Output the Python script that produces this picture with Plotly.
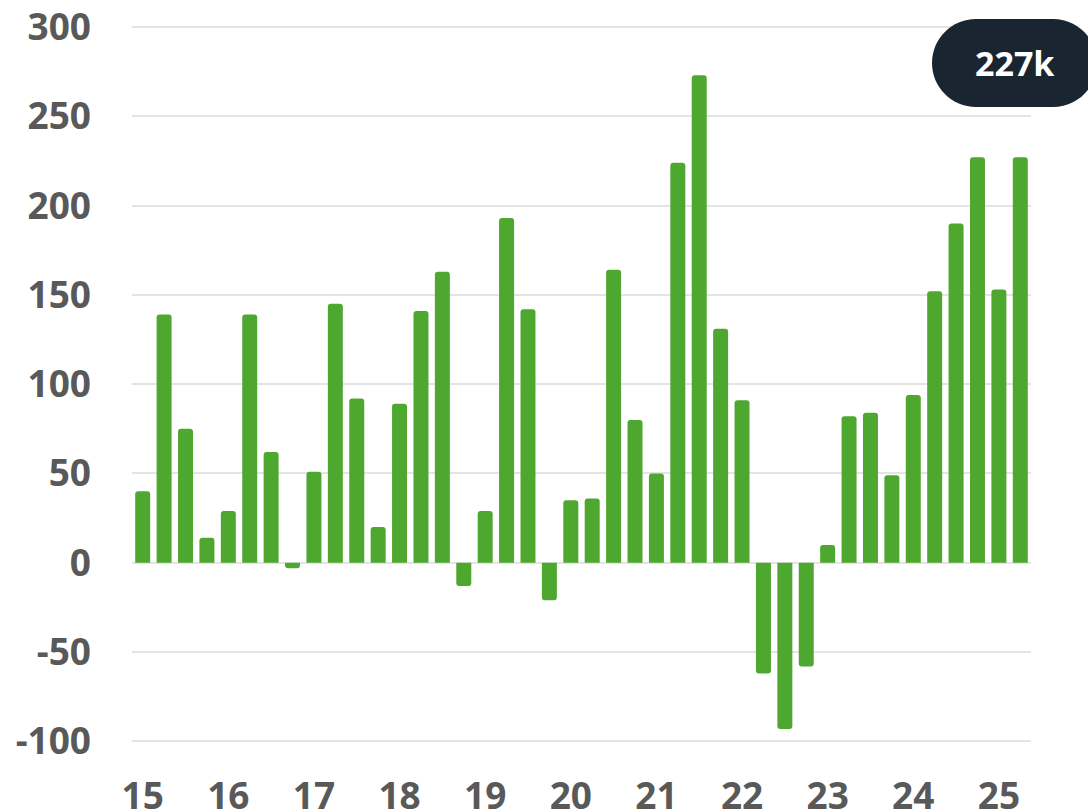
import plotly.graph_objects as go

# Quarterly values (2015 Q1 .. 2025 Q2)
quarters = [f"{y}Q{q}" for y in range(15, 26) for q in range(1, 5)][:42]
values = [40, 139, 75, 14, 29, 139, 62, -3, 51, 145, 92, 20, 89, 141, 163, -13,
          29, 193, 142, -21, 35, 36, 164, 80, 50, 224, 273, 131, 91, -62, -93, -58,
          10, 82, 84, 49, 94, 152, 190, 227, 153, 227]
year_labels = ["15", "16", "17", "18", "19", "20", "21", "22", "23", "24", "25"]
y_ticks = [-100, -50, 0, 50, 100, 150, 200, 250, 300]
callout_text = "227k"

W, H = 1088, 811
ML, MR, MT = 132, 57, 18
YMIN, YMAX = -116, 305
PX_PER_UNIT = 1.786
plot_h = (YMAX - YMIN) * PX_PER_UNIT
MB = H - MT - plot_h

xs = list(range(len(values)))
tickvals = [quarters.index(f"{y}Q1") for y in year_labels]

fig = go.Figure()
fig.add_trace(go.Bar(
    x=xs, y=values,
    marker=dict(color="#4ea72e", cornerradius=3, line=dict(width=0)),
    hoverinfo="skip",
))

tickfont = dict(family="Open Sans", size=37, color="#595959", weight="bold")

fig.update_layout(
    width=W, height=H,
    margin=dict(l=ML, r=MR, t=MT, b=MB, autoexpand=False),
    plot_bgcolor="white", paper_bgcolor="white",
    bargap=0.3,
    showlegend=False,
    xaxis=dict(
        range=[-0.5, len(values) - 0.5],
        tickvals=tickvals, ticktext=year_labels,
        tickfont=tickfont, showgrid=False, zeroline=False,
        showline=False, ticks="", automargin=False,
        ticklabelstandoff=1, ticklabeloverflow="allow",
    ),
    yaxis=dict(
        range=[YMIN, YMAX],
        tickvals=y_ticks, ticktext=[str(v) for v in y_ticks],
        tickfont=tickfont, showgrid=True, gridcolor="#e4e4e4", gridwidth=1.5,
        zeroline=False, showline=False, ticks="", automargin=False,
        ticklabelstandoff=40, ticklabeloverflow="allow",
    ),
)

# Pill callout (pixel coordinates relative to top-right corner of plot area)
r = 44
k = 0.5523 * r
cx1, cx2, yc = -55, 22, -45
path = (
    f"M {cx1},{yc + r} L {cx2},{yc + r} "
    f"C {cx2 + k},{yc + r} {cx2 + r},{yc + k} {cx2 + r},{yc} "
    f"C {cx2 + r},{yc - k} {cx2 + k},{yc - r} {cx2},{yc - r} "
    f"L {cx1},{yc - r} "
    f"C {cx1 - k},{yc - r} {cx1 - r},{yc - k} {cx1 - r},{yc} "
    f"C {cx1 - r},{yc + k} {cx1 - k},{yc + r} {cx1},{yc + r} Z"
)
fig.add_shape(
    type="path", path=path,
    xref="paper", yref="paper", xsizemode="pixel", ysizemode="pixel",
    xanchor=1, yanchor=1,
    fillcolor="#1a2532", line=dict(width=0), layer="above",
)
plot_w = W - ML - MR
fig.add_annotation(
    x=(1015 - ML) / plot_w, y=(H - MB - 63) / plot_h,
    xref="paper", yref="paper", text=callout_text, showarrow=False,
    font=dict(family="Open Sans", size=34, color="white", weight="bold"),
    xanchor="center", yanchor="middle",
)

fig.write_html(
    "out.html",
    config={"displayModeBar": False},
    post_script="document.body.style.margin='0';document.body.style.overflow='hidden';",
)
